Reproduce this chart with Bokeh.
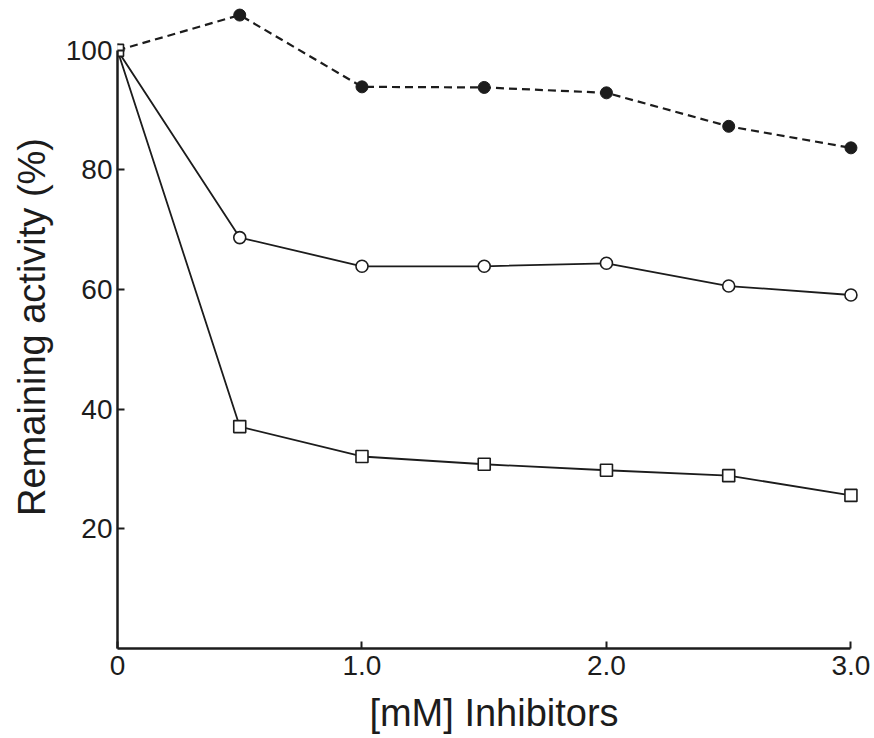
from bokeh.plotting import figure
from bokeh.models import Range1d, FixedTicker
from bokeh.embed import file_html
from bokeh.resources import INLINE

# Data
conc = [0.0, 0.5, 1.0, 1.5, 2.0, 2.5, 3.0]
filled = [100.0, 105.9, 93.9, 93.8, 92.9, 87.3, 83.7]
open_circ = [100.0, 68.7, 63.9, 63.9, 64.4, 60.6, 59.1]
squares = [100.0, 37.1, 32.1, 30.8, 29.8, 28.9, 25.6]

x_ticks = [0, 1, 2, 3]
x_tick_labels = ["0", "1.0", "2.0", "3.0"]
y_ticks = [20, 40, 60, 80, 100]

FONT = "Liberation Sans"
INK = "#1c1c1c"

p = figure(width=874, height=738, output_backend="svg", toolbar_location=None,
           x_range=Range1d(0, 3.08), y_range=Range1d(0, 107.5),
           min_border_left=117, min_border_right=4, min_border_top=5,
           min_border_bottom=90)
p.outline_line_color = None
p.grid.grid_line_color = None
p.background_fill_color = "white"
p.border_fill_color = "white"

# series
p.line(conc, filled, line_color=INK, line_width=2.2, line_dash="8 5")
p.line(conc, open_circ, line_color=INK, line_width=1.8)
p.line(conc, squares, line_color=INK, line_width=1.8)
p.scatter(conc, filled, marker="circle", size=12, fill_color=INK, line_color=INK)
p.scatter(conc, open_circ, marker="circle", size=12, fill_color="white",
          line_color=INK, line_width=1.6)
p.scatter(conc, squares, marker="square", size=12, fill_color="white",
          line_color=INK, line_width=1.6)

# axes
xa = p.xaxis[0]
xa.ticker = FixedTicker(ticks=x_ticks)
xa.major_label_overrides = {t: l for t, l in zip(x_ticks, x_tick_labels)}
xa.bounds = (0, 3)
xa.axis_label = "[mM] Inhibitors"

ya = p.yaxis[0]
ya.ticker = FixedTicker(ticks=y_ticks)
ya.bounds = (0, 100)
ya.axis_label = "Remaining activity (%)"

for ax in (xa, ya):
    ax.axis_line_width = 2.5
    ax.axis_line_color = INK
    ax.major_tick_in = 7
    ax.major_tick_out = 0
    ax.major_tick_line_width = 2
    ax.major_tick_line_color = INK
    ax.minor_tick_line_color = None
    ax.major_label_text_font = FONT
    ax.major_label_text_font_size = "28px"
    ax.major_label_text_color = INK
    ax.major_label_standoff = 5
    ax.axis_label_text_font = FONT
    ax.axis_label_text_font_size = "38px"
    ax.axis_label_text_font_style = "normal"
    ax.axis_label_text_color = INK

xa.major_label_standoff = 7
xa.axis_label_standoff = 14
ya.axis_label_standoff = 10

open("out.html", "w").write(file_html(p, INLINE))
